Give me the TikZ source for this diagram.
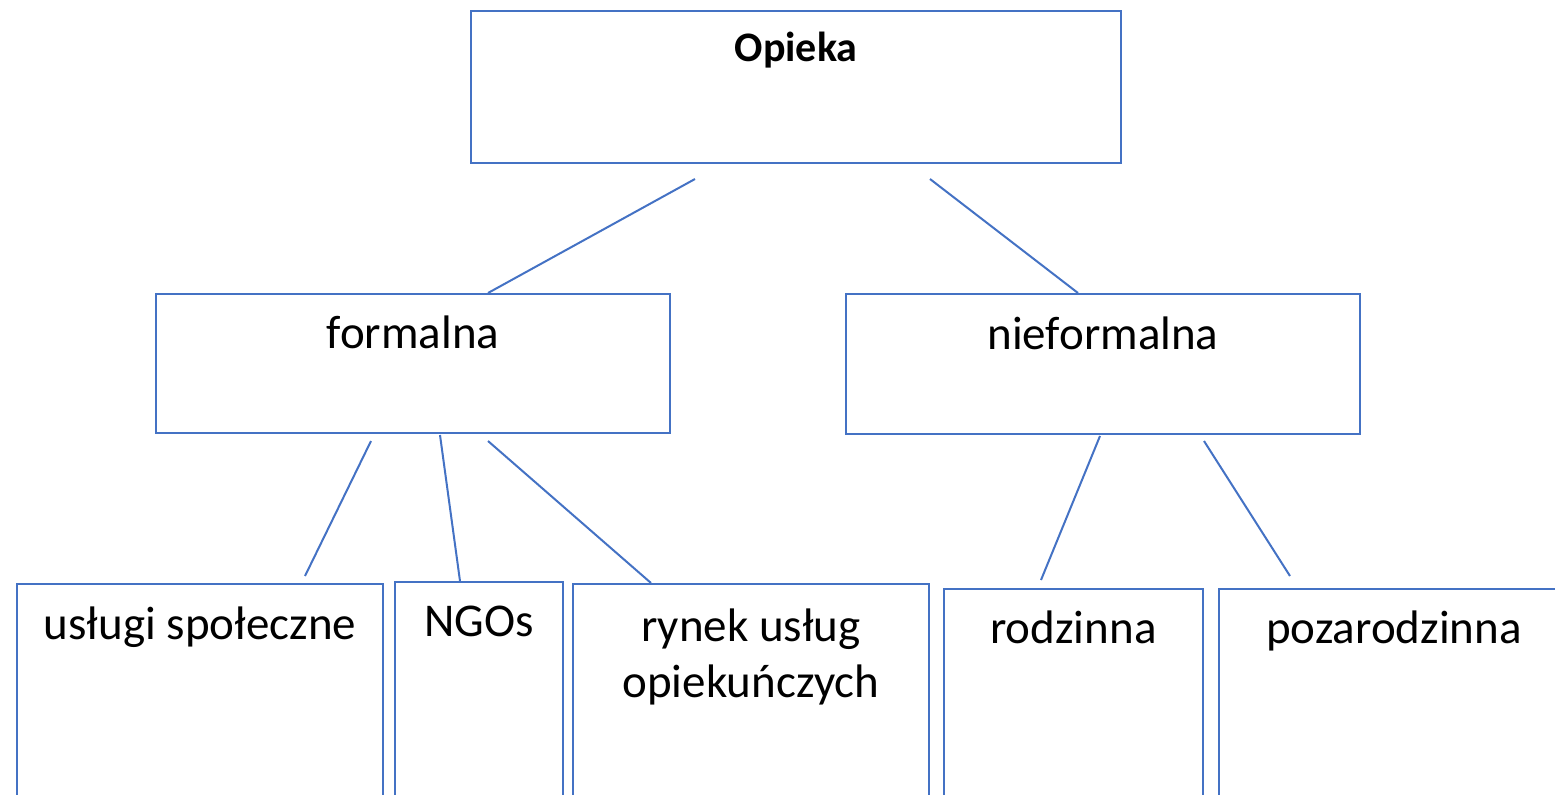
\documentclass[tikz,border=0pt]{standalone}
\usepackage{fontspec}
\setmainfont{Carlito}
\usepackage{tikz}
\usetikzlibrary{calc}

\definecolor{boxblue}{HTML}{4472C4}

\begin{document}
\begin{tikzpicture}[x=0.5pt, y=-0.5pt]
        \tikzset{box/.style = {draw=boxblue, line width=1pt, inner sep=0pt, anchor=north west,
            align=flush center, font=\fontsize{23.5pt}{28pt}\selectfont}}
        \tikzset{link/.style = {draw=boxblue, line width=1pt}}
        \useasboundingbox (0,0) rectangle (1555,794);
        \clip (0,0) rectangle (1555,794);
        % top
        \node[box, text width=325pt, text height=25pt, text depth=51pt,
            font=\fontsize{21pt}{25pt}\selectfont\bfseries] (o) at (470,10) {Opieka};
        % second row
        \node[box, text width=257pt, text height=27pt, text depth=42.5pt] (f) at (155,293) {formalna};
        \node[box, text width=257pt, text height=27.5pt, text depth=42.5pt] (n) at (845,293) {nieformalna};
        % bottom row
        \node[box, text width=183pt, text height=27.5pt, text depth=100pt] (u) at (16,583) {usługi społeczne};
        \node[box, text width=84pt, text height=27pt, text depth=100pt] (g) at (394,581) {NGOs};
        \node[box, text width=178pt, text height=28.5pt, text depth=100pt] (r) at (572,583) {rynek usług\\opiekuńczych};
        \node[box, text width=129.5pt, text height=27pt, text depth=100pt] (d) at (943,588) {rodzinna};
        \node[box, text width=175pt, text height=27pt, text depth=100pt] (p) at (1218,588) {pozarodzinna};
        \foreach \from/\fx/\fy/\to/\tx/\ty in {o/225/15/f/333/0, o/460/15/n/233/0,
                f/216/7/u/289/-7, f/285/1/g/66/0, f/333/7/r/79/0,
                n/255/1/d/98/-8, n/359/6/p/72/-12}
            \draw[link] ($(\from.south west)+(\fx,\fy)$) -- ($(\to.north west)+(\tx,\ty)$);
    \end{tikzpicture}
\end{document}
